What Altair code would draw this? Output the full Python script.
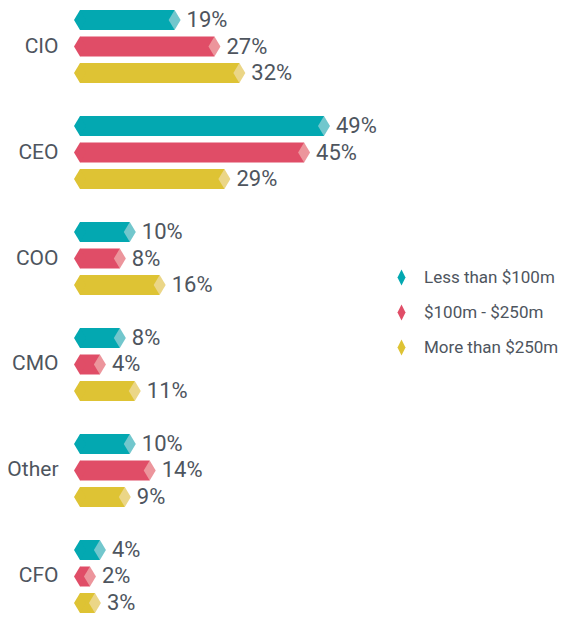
import altair as alt
import pandas as pd

categories = ["CIO", "CEO", "COO", "CMO", "Other", "CFO"]
series = ["Less than $100m", "$100m - $250m", "More than $250m"]
less_than_100m = [19, 49, 10, 8, 10, 4]
between_100_250m = [27, 45, 8, 4, 14, 2]
more_than_250m = [32, 29, 16, 11, 9, 3]

dark_colors = ["#03A8B1", "#E04D67", "#DEC334"]
light_colors = ["#72C7CD", "#EC959C", "#EBD687"]

rows = []
for s_i, (s, vals) in enumerate(zip(series, [less_than_100m, between_100_250m, more_than_250m])):
    for c, v in zip(categories, vals):
        rows.append({"cat": c, "series": s, "value": v, "light": light_colors[s_i],
                     "label": f"{v}%"})
df = pd.DataFrame(rows)

FONT = "Roboto"
TEXT_COLOR = "#4E555E"

cap_path = "M0,-1L0.6,0L0,1L-0.6,0Z"
legend_path = "M0,-1L0.5,0L0,1L-0.5,0Z"

y_enc = alt.Y("cat:N", sort=categories,
              scale=alt.Scale(paddingInner=0.3113, paddingOuter=0),
              axis=alt.Axis(title=None, domain=False, ticks=False, labelFont=FONT,
                            labelFontSize=21, labelColor=TEXT_COLOR, labelPadding=22))
yoff_enc = alt.YOffset("series:N", sort=series,
                       scale=alt.Scale(paddingInner=6.5 / 26.5, paddingOuter=0))
x_scale = alt.Scale(domain=[0, 97.6], nice=False, zero=True)
color_scale = alt.Scale(domain=series, range=dark_colors)

legend = alt.Legend(title=None, orient="none", legendX=313, legendY=259,
                    symbolType=legend_path, symbolSize=256, symbolStrokeWidth=0,
                    symbolOpacity=1, labelFont=FONT, labelFontSize=17,
                    labelColor=TEXT_COLOR, labelOffset=14, rowPadding=17,
                    labelLimit=300)
color_enc = alt.Color("series:N", scale=color_scale, sort=series, legend=legend)

base = alt.Chart(df)

body = base.mark_bar(cornerRadius=0).encode(
    x=alt.X("value:Q", scale=x_scale, axis=None),
    y=y_enc, yOffset=yoff_enc,
    color=color_enc,
)

left_cap = base.mark_point(shape=cap_path, size=400, filled=True, opacity=1, strokeWidth=0).encode(
    x=alt.datum(0, type="quantitative", scale=x_scale),
    y=y_enc, yOffset=yoff_enc,
    color=color_enc,
)

right_tip = base.mark_point(shape=cap_path, size=400, filled=True, opacity=1, strokeWidth=0).encode(
    x=alt.X("value:Q", scale=x_scale),
    y=y_enc, yOffset=yoff_enc,
    color=alt.Color("light:N", scale=None),
)

labels = base.mark_text(align="left", baseline="middle", dx=12, font=FONT, fontSize=22,
                        color=TEXT_COLOR).encode(
    x=alt.X("value:Q", scale=x_scale),
    y=y_enc, yOffset=yoff_enc,
    text="label:N",
)

chart = alt.layer(body, left_cap, right_tip, labels).properties(
    width=486, height=603,
    autosize=alt.AutoSizeParams(type="none"),
    padding={"left": 72, "top": 2, "right": 0, "bottom": 5},
).configure_view(stroke=None)

chart.save("out.html", embed_options={"renderer": "svg", "actions": False})
